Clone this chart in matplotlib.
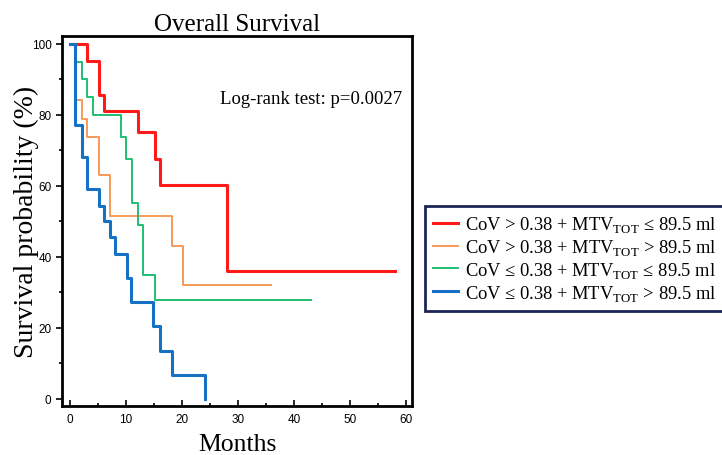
import numpy as np
import matplotlib.pyplot as plt

# Kaplan-Meier step data (months, survival %)
red_t = [0, 3.0, 5.1, 6.0, 12.1, 15.1, 16.0, 28.1, 58.0]
red_s = [100, 95.2, 85.7, 81.0, 75.3, 67.7, 60.2, 36.1, 36.1]

orange_t = [0, 0.9, 2.1, 3.0, 5.1, 7.2, 18.2, 20.1, 36.0]
orange_s = [100, 84.2, 78.9, 73.7, 63.2, 51.6, 43.0, 32.1, 32.1]

green_t = [0, 1.1, 2.1, 3.1, 4.1, 9.1, 10.0, 11.1, 12.1, 13.0, 15.1, 43.0]
green_s = [100, 95.0, 90.0, 85.0, 80.0, 73.7, 67.6, 55.2, 49.0, 35.0, 28.0, 28.0]

blue_t = [0, 0.9, 2.1, 3.1, 5.1, 6.0, 7.2, 8.1, 10.2, 10.9, 14.9, 16.0, 18.2, 24.2]
blue_s = [100, 77.3, 68.2, 59.1, 54.5, 50.0, 45.5, 40.9, 34.1, 27.2, 20.5, 13.6, 6.8, 0]

labels = [
    r'CoV > 0.38 + MTV$_{\mathrm{TOT}}$ ≤ 89.5 ml',
    r'CoV > 0.38 + MTV$_{\mathrm{TOT}}$ > 89.5 ml',
    r'CoV ≤ 0.38 + MTV$_{\mathrm{TOT}}$ ≤ 89.5 ml',
    r'CoV ≤ 0.38 + MTV$_{\mathrm{TOT}}$ > 89.5 ml',
]

plt.rcParams['mathtext.fontset'] = 'custom'
plt.rcParams['mathtext.rm'] = 'Liberation Serif'
serif = 'Liberation Serif'

fig = plt.figure(figsize=(7.22, 4.56), dpi=100)
ax = fig.add_axes([0.0859, 0.1075, 0.4847, 0.8114])

series = [
    (red_t, red_s, '#ff1a1a', 2.2),
    (orange_t, orange_s, '#f59a5a', 1.4),
    (green_t, green_s, '#1fbf72', 1.4),
    (blue_t, blue_s, '#1670c4', 2.2),
]
handles = []
for (t, s, c, lw), lab in zip(series, labels):
    h, = ax.step(t, s, where='post', color=c, lw=lw, label=lab)
    handles.append(h)

ax.set_xlim(-1.43, 61.1)
ax.set_ylim(-1.97, 102.25)
ax.set_xticks(np.arange(0, 61, 10))
ax.set_xticks(np.arange(0, 61, 5), minor=True)
ax.set_yticks(np.arange(0, 101, 20))
ax.set_yticks(np.arange(0, 101, 10), minor=True)
ax.tick_params(axis='x', which='both', direction='in', labelsize=8.5, pad=5)
ax.tick_params(axis='x', which='major', length=4, width=1.2)
ax.tick_params(axis='x', which='minor', length=2, width=1.2)
ax.tick_params(axis='y', which='major', length=4, width=1.2, labelsize=8.5)
ax.tick_params(axis='y', which='minor', length=2, width=1.2)
for lab in ax.get_xticklabels() + ax.get_yticklabels():
    lab.set_fontfamily('Liberation Sans')
for sp in ax.spines.values():
    sp.set_linewidth(2)

ax.set_title('Overall Survival', fontfamily=serif, fontsize=18, pad=4)
ax.set_xlabel('Months', fontfamily=serif, fontsize=18.5)
ax.xaxis.set_label_coords(0.5, -0.073)
ax.set_ylabel('Survival probability (%)', fontfamily=serif, fontsize=20)
ax.yaxis.set_label_coords(-0.066, 0.5)
ax.text(26.8, 84.5, 'Log-rank test: p=0.0027', fontfamily=serif, fontsize=13.5,
        va='center', ha='left')

leg = fig.legend(handles=handles, loc='upper left', bbox_to_anchor=(0.5886, 0.546),
                 prop={'family': serif, 'size': 13.3}, frameon=True, fancybox=False,
                 framealpha=1, handlelength=1.35, handletextpad=0.35, labelspacing=0.15,
                 borderpad=0.45, borderaxespad=0)
leg.get_frame().set_edgecolor('#1b2656')
leg.get_frame().set_linewidth(2)

fig.savefig('out.png', dpi=100)
